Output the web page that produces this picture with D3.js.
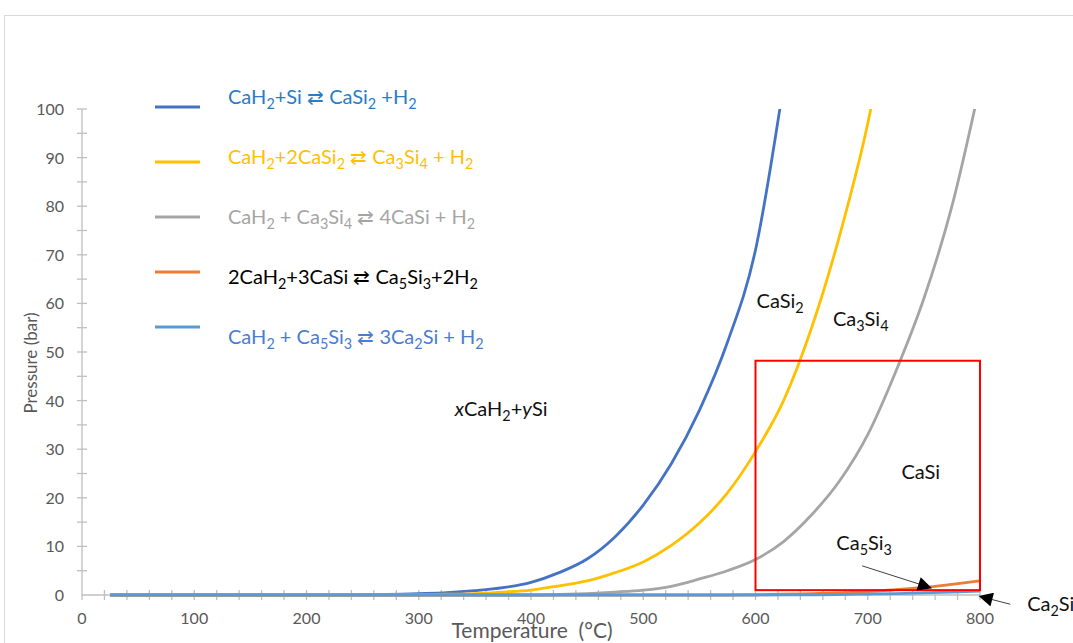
<!doctype html>
<html lang="en">
<head>
<meta charset="UTF-8">
<title>CaH2 - Si equilibrium pressures</title>
<style>
    body { margin: 0; background: #fff; }
    svg { display: block; font-family: Lato, "Open Sans", sans-serif; }
    .tick-label { font-size: 16px; fill: #595959; }
    .axis-title { font-size: 21px; fill: #595959; }
    .note { font-size: 20px; fill: #111; }
</style>
</head>
<body>
<svg id="chart" width="1073" height="643"></svg>
<script src="https://d3js.org/d3.v7.min.js"></script>
<script>
// temperatures (°C) shared by every series
var temps = [25, 50, 100, 150, 200, 250, 300, 325, 350, 375, 400, 425, 450, 475, 500,
             525, 550, 575, 600, 625, 650, 675, 700, 725, 750, 775, 800];

// pressures in bar (null = past the top / not drawn)
var caSi2 = [0, 0, 0, 0, 0, 0.05, 0.3, 0.5, 0.9, 1.5, 2.6, 4.6, 7.4, 12, 18.5,
             27, 38, 52, 71, 105, null, null, null, null, null, null, null];
var ca3Si4 = [0, 0, 0, 0, 0, 0, 0.05, 0.15, 0.3, 0.6, 1.0, 1.9, 2.9, 4.6, 6.8,
              10.2, 14.8, 21, 29.5, 40, 55, 74, 97, 128, null, null, null];
var caSi = [0, 0, 0, 0, 0, 0, 0, 0, 0, 0, 0, 0.1, 0.3, 0.6, 1.0,
            1.8, 3.3, 5.0, 7.3, 11, 16.5, 23.5, 33, 46, 61, 80, 105];
var ca5Si3 = [0, 0, 0, 0, 0, 0, 0, 0, 0, 0, 0, 0, 0, 0, 0,
              0, 0, 0, 0.05, 0.15, 0.3, 0.45, 0.7, 1.1, 1.55, 2.2, 2.9];
var ca2Si = [0, 0, 0, 0, 0, 0, 0, 0, 0, 0, 0, 0, 0, 0, 0,
             0, 0, 0, 0, 0.02, 0.05, 0.1, 0.2, 0.3, 0.45, 0.6, 0.8];

var seriesNames = [
    "CaH_2+Si ⇄ CaSi_2 +H_2",
    "CaH_2+2CaSi_2 ⇄ Ca_3Si_4 + H_2",
    "CaH_2 + Ca_3Si_4 ⇄ 4CaSi + H_2",
    "2CaH_2+3CaSi ⇄ Ca_5Si_3+2H_2",
    "CaH_2 + Ca_5Si_3 ⇄ 3Ca_2Si + H_2"
];
var seriesValues = [caSi2, ca3Si4, caSi, ca5Si3, ca2Si];
var lineColors = ["#4472c4", "#ffc000", "#a5a5a5", "#ed7d31", "#5b9bd5"];
var textColors = ["#2a7cc6", "#ffc000", "#a5a5a5", "#000000", "#4a7dd2"];

var xTicks = [0, 100, 200, 300, 400, 500, 600, 700, 800];
var yTicks = [0, 10, 20, 30, 40, 50, 60, 70, 80, 90, 100];

// phase field labels [text, temperature, pressure]
var notes = [
    ["CaSi_2", 601, 59],
    ["Ca_3Si_4", 669, 55.3],
    ["*x*CaH_2+*y*Si", 332, 36.8],
    ["CaSi", 730, 23.9],
    ["Ca_5Si_3", 672, 9.3],
    ["Ca_2Si", 842, -3.3]
];
// highlighted region [T0, T1, P0, P1]
var box = [600, 800, 1.0, 48.2];

var svg = d3.select("#chart");

var x = d3.scaleLinear().domain([0, 800]).range([82, 980]);
var y = d3.scaleLinear().domain([0, 100]).range([595, 109]);

// writes "CaH_2" style strings with subscripts and *italic* parts
function rich(sel, str) {
    var parts = str.split(/(_\d|\*[a-z]\*)/).filter(function(s) { return s.length; });
    var shifted = false;
    parts.forEach(function(p) {
        if (p[0] === "_") {
            sel.append("tspan").attr("dy", 5).style("font-size", "0.72em").text(p.slice(1));
            shifted = true;
        } else {
            var t = sel.append("tspan").text(p[0] === "*" ? p.slice(1, -1) : p);
            if (p[0] === "*") t.style("font-style", "italic");
            if (shifted) { t.attr("dy", -5); shifted = false; }
        }
    });
}

// outer chart frame
svg.append("rect")
    .attr("x", 4.5).attr("y", 15.5)
    .attr("width", 1100).attr("height", 700)
    .attr("fill", "none").attr("stroke", "#d9d9d9");

// axes
var axisColor = "#bfbfbf";
svg.append("line")
    .attr("x1", x(0)).attr("x2", x(800))
    .attr("y1", y(0)).attr("y2", y(0))
    .attr("stroke", axisColor).attr("stroke-width", 1.3);
svg.append("line")
    .attr("x1", x(0)).attr("x2", x(0))
    .attr("y1", y(100)).attr("y2", y(0) + 5)
    .attr("stroke", axisColor).attr("stroke-width", 1.3);

svg.append("g").selectAll("line")
    .data(d3.range(20, 801, 20)).enter().append("line")
    .attr("x1", function(d) { return x(d); }).attr("x2", function(d) { return x(d); })
    .attr("y1", y(0) - 5).attr("y2", y(0) + 5)
    .attr("stroke", axisColor).attr("stroke-width", 1.3);

svg.append("g").selectAll("line")
    .data(d3.range(5, 101, 5)).enter().append("line")
    .attr("x1", x(0) - 5).attr("x2", x(0) + 5)
    .attr("y1", function(d) { return y(d); }).attr("y2", function(d) { return y(d); })
    .attr("stroke", axisColor).attr("stroke-width", 1.3);

svg.append("g").selectAll("text")
    .data(xTicks).enter().append("text")
    .attr("class", "tick-label")
    .attr("x", function(d) { return x(d); })
    .attr("y", 624)
    .attr("text-anchor", "middle")
    .text(function(d) { return d; });

svg.append("g").selectAll("text")
    .data(yTicks).enter().append("text")
    .attr("class", "tick-label")
    .attr("x", 64)
    .attr("y", function(d) { return y(d) + 6; })
    .attr("text-anchor", "end")
    .text(function(d) { return d; });

svg.append("text")
    .attr("class", "axis-title")
    .attr("x", 532).attr("y", 638)
    .attr("text-anchor", "middle")
    .attr("xml:space", "preserve")
    .text("Temperature  (°C)");

svg.append("text")
    .attr("class", "axis-title")
    .attr("transform", "translate(37,363) rotate(-90)")
    .attr("text-anchor", "middle")
    .style("font-size", "17px")
    .text("Pressure (bar)");

// curves, clipped at the top of the plot
svg.append("clipPath").attr("id", "plot")
    .append("rect").attr("x", x(0)).attr("y", y(100))
    .attr("width", x(800) - x(0) + 2).attr("height", y(0) - y(100) + 4);

var line = d3.line()
    .defined(function(d) { return d[1] !== null; })
    .x(function(d) { return x(d[0]); })
    .y(function(d) { return y(d[1]); })
    .curve(d3.curveMonotoneX);

svg.append("g").attr("clip-path", "url(#plot)")
    .selectAll("path")
    .data(seriesValues).enter().append("path")
    .attr("d", function(vals) {
        return line(temps.map(function(t, i) { return [t, vals[i]]; }));
    })
    .attr("fill", "none")
    .attr("stroke", function(d, i) { return lineColors[i]; })
    .attr("stroke-width", 2.8);

// legend
var legend = svg.append("g").selectAll("g")
    .data(seriesNames).enter().append("g");
legend.append("line")
    .attr("x1", 155).attr("x2", 200)
    .attr("y1", function(d, i) { return 107 + i * 55; })
    .attr("y2", function(d, i) { return 107 + i * 55; })
    .attr("stroke", function(d, i) { return lineColors[i]; })
    .attr("stroke-width", 3);
legend.append("text")
    .attr("x", 228)
    .attr("y", function(d, i) { return 104 + i * 60; })
    .style("font-size", "20px")
    .attr("fill", function(d, i) { return textColors[i]; })
    .each(function(d) { rich(d3.select(this), d); });

// red highlight box
svg.append("rect")
    .attr("x", x(box[0])).attr("y", y(box[3]))
    .attr("width", x(box[1]) - x(box[0]))
    .attr("height", y(box[2]) - y(box[3]))
    .attr("fill", "none").attr("stroke", "#ff0000").attr("stroke-width", 2);

// phase labels
svg.append("g").selectAll("text")
    .data(notes).enter().append("text")
    .attr("class", "note")
    .attr("x", function(d) { return x(d[1]); })
    .attr("y", function(d) { return y(d[2]); })
    .each(function(d) { rich(d3.select(this), d[0]); });

// arrows
svg.append("defs").append("marker")
    .attr("id", "head").attr("viewBox", "0 0 10 10")
    .attr("refX", 9).attr("refY", 5)
    .attr("markerWidth", 16).attr("markerHeight", 14)
    .attr("markerUnits", "userSpaceOnUse")
    .attr("orient", "auto")
    .append("path").attr("d", "M0,0L10,5L0,10Z").attr("fill", "#000");

var arrows = [[695, 6.0, 756, 1.5], [827, -1.9, 800, -0.3]];
svg.append("g").selectAll("line")
    .data(arrows).enter().append("line")
    .attr("x1", function(d) { return x(d[0]); }).attr("y1", function(d) { return y(d[1]); })
    .attr("x2", function(d) { return x(d[2]); }).attr("y2", function(d) { return y(d[3]); })
    .attr("stroke", "#404040").attr("stroke-width", 1)
    .attr("marker-end", "url(#head)");
</script>
</body>
</html>
